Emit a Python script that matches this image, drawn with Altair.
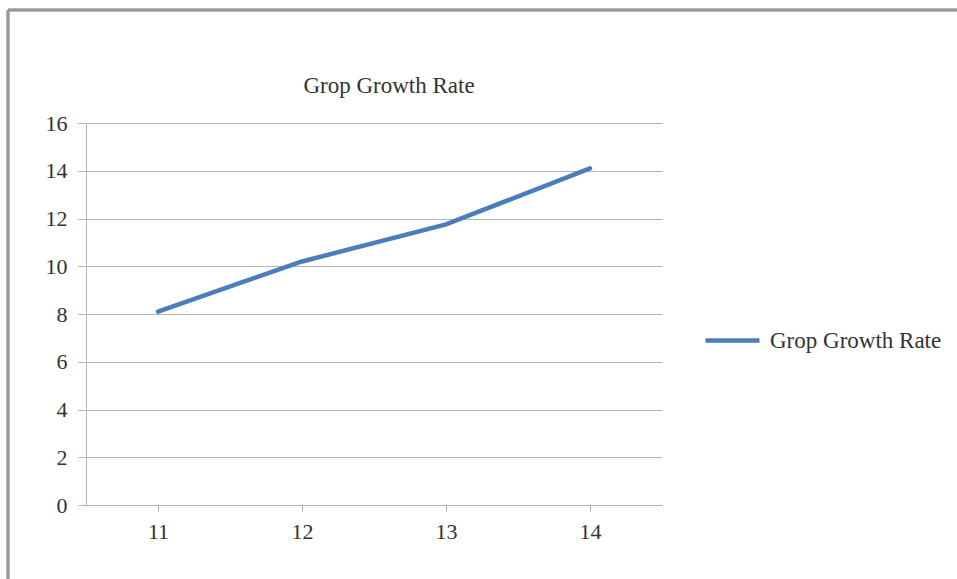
import altair as alt
import pandas as pd

# Series data
years = ["11", "12", "13", "14"]
growth = [8.1, 10.2, 11.75, 14.1]
series_name = "Grop Growth Rate"
chart_title = "Grop Growth Rate"

df = pd.DataFrame({"year": years, "rate": growth, "series": [series_name] * len(years)})

FONT = "Liberation Serif"
GRID = "#b4b4b4"
TEXT = "#333333"
BLUE = "#4a7ebb"

x_enc = alt.X(
    "year:O",
    sort=years,
    scale=alt.Scale(paddingInner=0, paddingOuter=0),
    axis=alt.Axis(
        title=None,
        labelAngle=0,
        bandPosition=0,
        tickSize=6,
        tickColor=GRID,
        domainColor=GRID,
        labelPadding=10,
        labelFont=FONT,
        labelFontSize=22,
        labelColor=TEXT,
        grid=False,
    ),
)

y_enc = alt.Y(
    "rate:Q",
    scale=alt.Scale(domain=[0, 16], nice=False, zero=True),
    axis=alt.Axis(
        title=None,
        values=list(range(0, 17, 2)),
        tickSize=8,
        tickColor=GRID,
        domainColor=GRID,
        gridColor=GRID,
        labelPadding=11,
        labelFont=FONT,
        labelFontSize=22,
        labelColor=TEXT,
    ),
)

line = alt.Chart(df).mark_line(strokeWidth=4.5, strokeCap="round").encode(
    x=x_enc,
    y=y_enc,
    color=alt.Color(
        "series:N",
        scale=alt.Scale(range=[BLUE]),
        legend=alt.Legend(
            title=None,
            orient="none",
            legendX=617,
            legendY=188,
            symbolType="stroke",
            symbolSize=2916,
            symbolStrokeWidth=4.5,
            labelFont=FONT,
            labelFontSize=23,
            labelColor=TEXT,
            labelOffset=8,
            labelLimit=400,
        ),
    ),
)

# Chart title drawn as a text mark above the plot
title = alt.Chart(pd.DataFrame({"t": [chart_title]})).mark_text(
    font=FONT, fontSize=23, color=TEXT, align="center", baseline="middle"
).encode(text="t:N", x=alt.value(303), y=alt.value(-37))

# Outer frame: top and left edges
frame_top = alt.Chart(df).mark_rule(color="#999999", strokeWidth=2.5).encode(
    x=alt.value(-78), x2=alt.value(871), y=alt.value(-113)
)
frame_left = alt.Chart(df).mark_rule(color="#999999", strokeWidth=2.5).encode(
    x=alt.value(-78), y=alt.value(-113), y2=alt.value(460)
)

chart = (
    alt.layer(frame_top, frame_left, title, line)
    .properties(
        width=576,
        height=382,
        autosize=alt.AutoSizeParams(type="none"),
        padding={"left": 86, "top": 123, "right": 295, "bottom": 74},
        background="white",
    )
    .configure_view(strokeWidth=0)
)

chart.save("out.html", embed_options={"renderer": "svg", "actions": False})
